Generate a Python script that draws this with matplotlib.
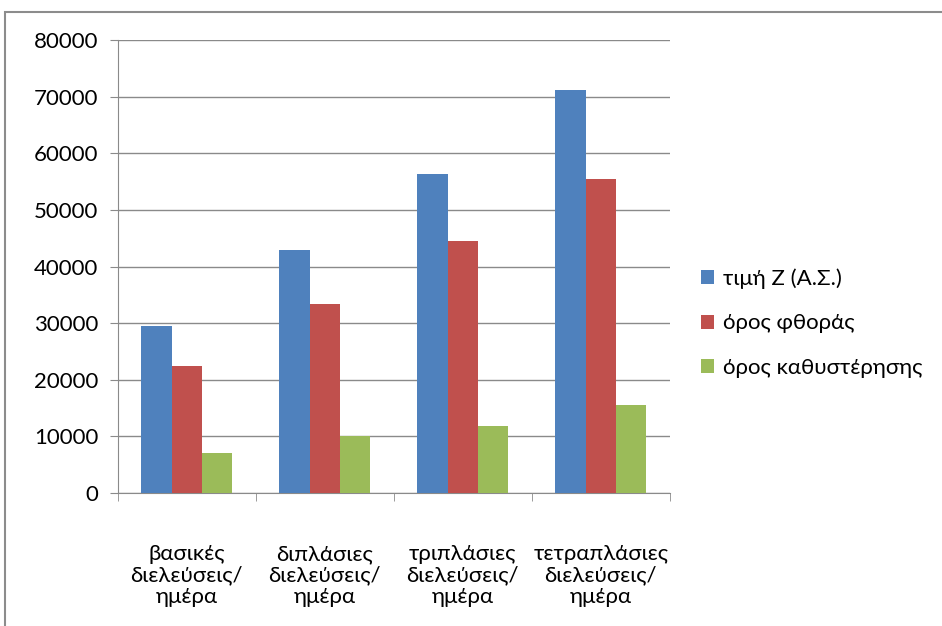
import matplotlib.pyplot as plt
import numpy as np
from matplotlib.patches import Rectangle

categories = ["βασικές\nδιελεύσεις/\nημέρα", "διπλάσιες\nδιελεύσεις/\nημέρα",
              "τριπλάσιες\nδιελεύσεις/\nημέρα", "τετραπλάσιες\nδιελεύσεις/\nημέρα"]
series_names = ["τιμή Ζ (Α.Σ.)", "όρος φθοράς", "όρος καθυστέρησης"]
timi_z = [29500, 43000, 56300, 71100]
oros_fthoras = [22500, 33300, 44500, 55500]
oros_kathysterisis = [7000, 10000, 11900, 15600]
colors = ["#4F81BD", "#C0504D", "#9BBB59"]

plt.rcParams['font.family'] = ['Lato', 'DejaVu Sans']

fig = plt.figure(figsize=(9.42, 6.26), dpi=100)
ax = fig.add_axes([0.125, 0.2125, 0.586, 0.7235])

# chart area border
fig.patches.append(Rectangle((5 / 942, -0.05), 1.0, 1 - 12 / 626 + 0.05,
                             transform=fig.transFigure, fill=False,
                             edgecolor="#8c8c8c", linewidth=1.5))

x = np.arange(len(categories))
w = 0.22
for i, (vals, name) in enumerate(zip([timi_z, oros_fthoras, oros_kathysterisis], series_names)):
    ax.bar(x + (i - 1) * w, vals, width=w, color=colors[i], label=name, zorder=3)

ax.set_xlim(-0.5, len(categories) - 0.5)
ax.set_ylim(0, 80000)
ax.set_yticks(range(0, 80001, 10000))
ax.yaxis.grid(True, color="#8a8a8a", linewidth=1)
ax.set_axisbelow(True)

ax.set_xticks(x)
ax.set_xticklabels(categories, fontsize=16, linespacing=1.08)
ax.set_xticks(np.arange(-0.5, len(categories)), minor=True)
ax.tick_params(axis="x", which="major", length=0, pad=37)
ax.tick_params(axis="x", which="minor", length=6, color="#8a8a8a")
ax.tick_params(axis="y", length=6, color="#8a8a8a", labelsize=16, pad=8)

for s in ["top", "right"]:
    ax.spines[s].set_visible(False)
for s in ["left", "bottom"]:
    ax.spines[s].set_color("#8a8a8a")

ax.legend(loc="center left", bbox_to_anchor=(1.02, 0.375), frameon=False,
          fontsize=16, handlelength=0.6, handleheight=0.6, handletextpad=0.4,
          labelspacing=1.1)

fig.savefig("out.png", dpi=100)
